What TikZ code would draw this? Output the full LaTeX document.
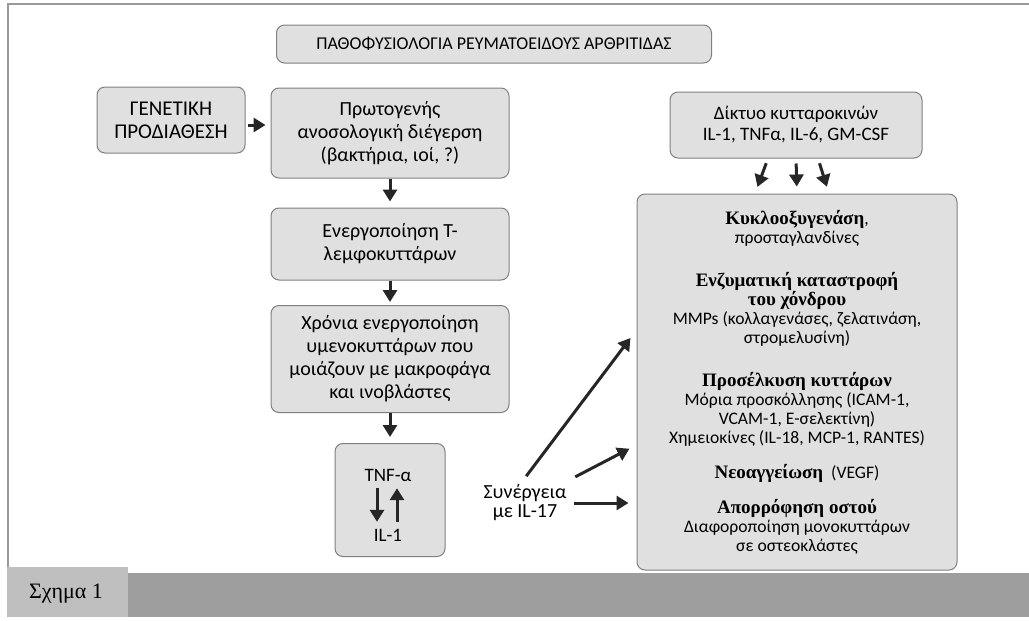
\documentclass[tikz,border=0pt]{standalone}
\usepackage{fontspec}
\setmainfont{Carlito}
\newfontfamily\headfont{Liberation Serif}
\usetikzlibrary{arrows.meta}

\tikzset{
  box/.style={draw=black!50, fill=black!12, rounded corners=4pt, line width=0.5pt, align=center, inner sep=2pt},
  flow/.style={-{Triangle[length=6pt,width=7pt]}, line width=1.5pt, black!85},
}
\newcommand{\hd}[1]{{\headfont\bfseries\fontsize{9.5}{9.5}\selectfont #1}}

\begin{document}
\begin{tikzpicture}[x=0.5pt,y=-0.5pt,font=\fontsize{10}{11.5}\selectfont]
\useasboundingbox (0,0) rectangle (1029,621);
% frame and caption band
\draw[black!40, line width=0.6pt] (8,617) -- (8,4) -- (1029,4);
\fill[black!38] (128,573) rectangle (1029,617);
\fill[black!25] (7,567) rectangle (128,617);
\node[font=\headfont\fontsize{11}{13}\selectfont, anchor=west] (fig) at (22,594) {Σχημα 1};

% left column
\node[box, minimum width=217.5pt, minimum height=19pt, font=\fontsize{9}{11}\selectfont] (title) at (494,44) {ΠΑΘΟΦΥΣΙΟΛΟΓΙΑ ΡΕΥΜΑΤΟΕΙΔΟΥΣ ΑΡΘΡΙΤΙΔΑΣ};
\node[box, minimum width=74pt, minimum height=33pt, font=\fontsize{10.5}{11.5}\selectfont] (gen) at (171,120) {ΓΕΝΕΤΙΚΗ\\ΠΡΟΔΙΑΘΕΣΗ};
\node[box, minimum width=119pt, minimum height=45pt] (prim) at (390,133) {Πρωτογενής\\ανοσολογική διέγερση\\(βακτήρια, ιοί, ?)};
\node[box, minimum width=119pt, minimum height=36pt] (tact) at (390,244) {Ενεργοποίηση T-\\λεμφοκυττάρων};
\node[box, minimum width=119pt, minimum height=53.5pt] (chron) at (390,359) {Χρόνια ενεργοποίηση\\υμενοκυττάρων που\\μοιάζουν με μακροφάγα\\και ινοβλάστες};
\node[box, minimum width=55pt, minimum height=56.5pt] (tnfbox) at (390,500) {};
\node[font=\fontsize{9.5}{11}\selectfont] (tnf) at (388,475) {TNF-α};
\node[font=\fontsize{9.5}{11}\selectfont] (il) at (388,535) {IL-1};

% right column
\node[box, minimum width=126pt, minimum height=33pt, font=\fontsize{9.5}{10.5}\selectfont] (cyto) at (796,125) {Δίκτυο κυτταροκινών\\IL-1, TNFα, IL-6, GM-CSF};
\node[box, minimum width=160pt, minimum height=188pt, font=\fontsize{8.8}{9.5}\selectfont] (eff) at (797,382) {%
\hd{Κυκλοοξυγενάση}, \\ προσταγλανδίνες\\[12pt]
\hd{Ενζυματική καταστροφή}\\\hd{του χόνδρου}\\MMPs (κολλαγενάσες, ζελατινάση,\\στρομελυσίνη)\\[12pt]
\hd{Προσέλκυση κυττάρων}\\Μόρια προσκόλλησης (ICAM-1,\\VCAM-1, E-σελεκτίνη)\\Χημειοκίνες (IL-18, MCP-1, RANTES)\\[8pt]
\hd{Νεοαγγείωση}\ \ (VEGF)\\[8pt]
\hd{Απορρόφηση οστού}\\Διαφοροποίηση μονοκυττάρων\\σε οστεοκλάστες};
\node[font=\fontsize{10}{9.5}\selectfont, align=center] (syn) at (525,503) {Συνέργεια\\με IL-17};

% arrows
\draw[flow, shorten <=1pt, shorten >=2.5pt] ([yshift=-2.5pt]gen.east) -- ([yshift=-2.5pt]gen.east -| prim.west);
\draw[flow, shorten >=3pt] (prim.south) -- (tact.north);
\draw[flow, shorten >=1.5pt] (tact.south) -- (chron.north);
\draw[flow, shorten >=3pt] (chron.south) -- (tnfbox.north);
\draw[flow] ([xshift=-5.5pt]tnf.south) -- ([xshift=-5.5pt]il.north);
\draw[flow] ([xshift=4.5pt]il.north) -- ([xshift=4.5pt]tnf.south);
\draw[flow, shorten <=2.5pt, shorten >=3.5pt] ([xshift=-14pt]cyto.south) -- ([xshift=-21pt]eff.north);
\draw[flow, shorten <=2.5pt, shorten >=3.5pt] (cyto.south) -- (eff.north);
\draw[flow, shorten <=2.5pt, shorten >=3.5pt] ([xshift=11pt]cyto.south) -- ([xshift=16pt]eff.north);
\draw[flow, shorten <=1pt, shorten >=5pt] (syn.north) -- ([yshift=26pt]eff.west);
\draw[flow, shorten <=1pt, shorten >=4pt] (syn.north east) -- ([yshift=-31.5pt]eff.west);
\draw[flow, shorten >=4pt] (syn.east) -- (eff.west |- syn.east);
\end{tikzpicture}
\end{document}
